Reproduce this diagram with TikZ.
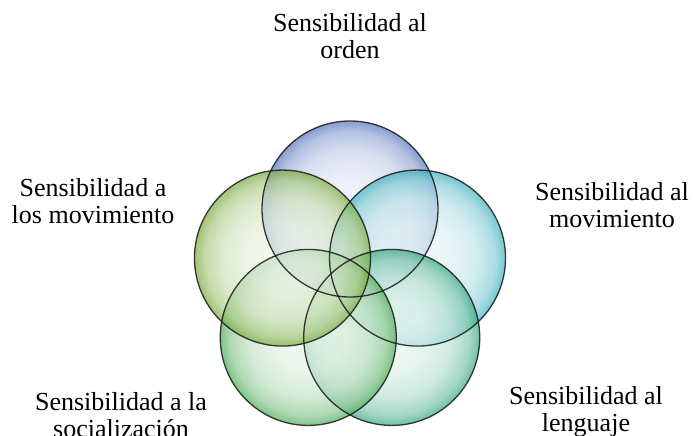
\documentclass[tikz,border=0pt]{standalone}
\usepackage{fontspec}
\setmainfont{Liberation Serif}
\definecolor{bubTop}{RGB}{85,115,190}
\definecolor{bubRight}{RGB}{60,175,190}
\definecolor{bubLowRight}{RGB}{50,165,125}
\definecolor{bubLowLeft}{RGB}{75,170,85}
\definecolor{bubLeft}{RGB}{120,170,60}
\colorlet{bubcol}{bubTop}
\pgfdeclareradialshading[bubcol]{bubble}{\pgfpoint{0bp}{0bp}}{color(0bp)=(bubcol!10!white); color(10bp)=(bubcol!18!white); color(17bp)=(bubcol!34!white); color(22bp)=(bubcol!62!white); color(25bp)=(bubcol); color(50bp)=(bubcol)}
\begin{document}
\begin{tikzpicture}[x=1pt, y=1pt,
		every node/.style={font=\fontsize{26}{27}\selectfont, align=center},
		bubble/.style={circle, minimum size=176pt, inner sep=0,
			fill opacity=0.7, /utils/exec={\colorlet{bubcol}{#1}}, shade, shading=bubble},
		rim/.style={draw=black!90, line width=1.3pt, draw opacity=0.85},
	]
	\useasboundingbox (-350,-156) rectangle (343,280);
	% circles
	\node[bubble=bubTop] (bOrden) at (90:71) {};
	\node[bubble=bubRight] (bMovimiento) at (18:71) {};
	\node[bubble=bubLowRight] (bLenguaje) at (-54:71) {};
	\node[bubble=bubLowLeft] (bSocial) at (234:71) {};
	\node[bubble=bubLeft] (bMovimientos) at (162:71) {};
	\foreach \b in {bOrden,bMovimiento,bLenguaje,bSocial,bMovimientos}
		\draw[rim] (\b) circle[radius=88];
	% labels
	\node (orden) at (0,244) {Sensibilidad al\\orden};
	\node (movimiento) at (262,75) {Sensibilidad al\\movimiento};
	\node (lenguaje) at (236,-132) {Sensibilidad al\\lenguaje};
	\node (social) at (-229,-135) {Sensibilidad a la\\socialización};
	\node (movimientos) at (-257,79) {Sensibilidad a\\los movimiento};
\end{tikzpicture}
\end{document}
